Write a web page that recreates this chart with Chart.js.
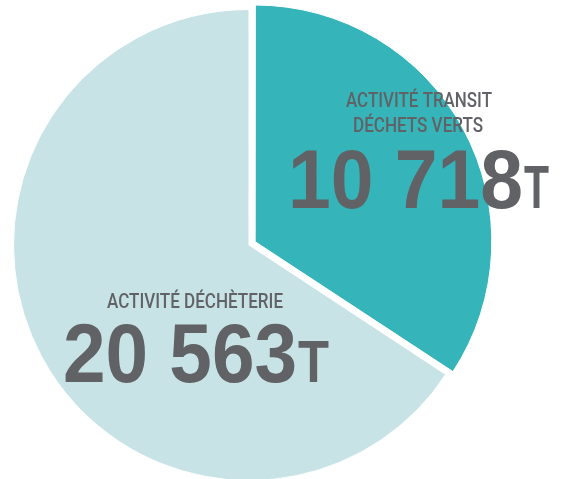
<!DOCTYPE html>
<html>
<head>
<meta charset="utf-8">
<script src="https://cdn.jsdelivr.net/npm/chart.js@4"></script>
<style>
  html, body { margin:0; padding:0; background:#fff; overflow:hidden; width:565px; height:479px; }
  #pie { position:absolute; left:-51px; top:-5px; }
</style>
</head>
<body>
<canvas id="pie" width="600" height="500"></canvas>
<script>
const categories = ["ACTIVITÉ TRANSIT\nDÉCHETS VERTS", "ACTIVITÉ DÉCHÈTERIE"];
const tonnes = [10718, 20563];
const unit = "T";
const colors = ["#35b5b9", "#c8e3e6"];
const textColor = "#616265";

const fmt = v => String(v).replace(/\B(?=(\d{3})+(?!\d))/g, " ");

// draws a line of text squeezed to a given width (the original uses a condensed face)
function squeeze(ctx, txt, x, y, font, w) {
  ctx.font = font;
  const m = ctx.measureText(txt).width;
  ctx.save();
  ctx.translate(x, y);
  ctx.scale(w / m, 1);
  ctx.fillText(txt, 0, 0);
  ctx.restore();
}

// label layout, relative to the pie centre: [dx, dy(baseline), width]
const labelBoxes = [
  { lines: [[97, -138, 146], [104, -113, 130]], num: [39, -37, 235], unit: [275, -37, 25], unitSize: 62 },
  { lines: [[-142, 63, 176]], num: [-186, 137, 234], unit: [49, 137, 31], unitSize: 60 }
];

const labelPlugin = {
  id: 'labels',
  afterDraw(chart) {
    const ctx = chart.ctx;
    const arc = chart.getDatasetMeta(0).data[1];
    const cx = arc.x, cy = arc.y;
    ctx.fillStyle = textColor;
    ctx.textBaseline = 'alphabetic';
    ctx.textAlign = 'left';
    categories.forEach((cat, i) => {
      const b = labelBoxes[i];
      cat.split("\n").forEach((ln, j) => {
        const p = b.lines[j];
        squeeze(ctx, ln, cx + p[0], cy + p[1], "500 19.5px Roboto, 'Liberation Sans', sans-serif", p[2]);
      });
      squeeze(ctx, fmt(tonnes[i]), cx + b.num[0], cy + b.num[1], "bold 84px 'Liberation Sans', Arial, sans-serif", b.num[2]);
      squeeze(ctx, unit, cx + b.unit[0], cy + b.unit[1], "bold " + b.unitSize + "px 'Liberation Sans', Arial, sans-serif", b.unit[2]);
    });
  }
};

new Chart(document.getElementById("pie"), {
  type: 'pie',
  data: {
    labels: categories,
    datasets: [{
      data: tonnes,
      backgroundColor: colors,
      borderColor: '#ffffff',
      borderWidth: 1,
      offset: [28, 0]
    }]
  },
  options: {
    responsive: false,
    animation: false,
    devicePixelRatio: 1,
    layout: { padding: 0 },
    plugins: { legend: { display: false }, tooltip: { enabled: false } }
  },
  plugins: [labelPlugin]
});
</script>
</body>
</html>
